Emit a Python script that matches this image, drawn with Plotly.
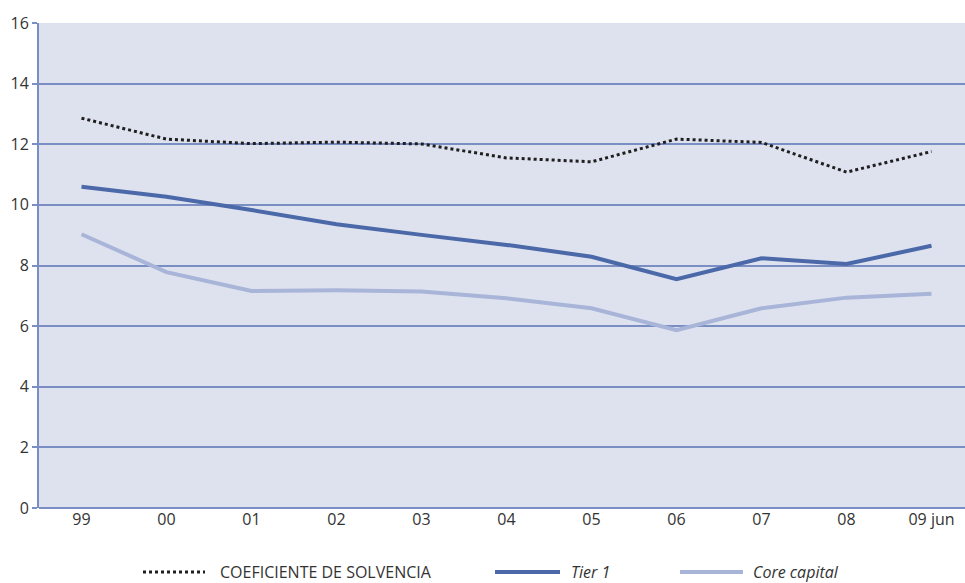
import plotly.graph_objects as go

# Solvency ratios (%) by year
years = ["99", "00", "01", "02", "03", "04", "05", "06", "07", "08", "09 jun"]
coef_solvencia = [12.86, 12.17, 12.02, 12.07, 12.01, 11.55, 11.42, 12.17, 12.06, 11.08, 11.76]
tier1 = [10.60, 10.27, 9.83, 9.36, 9.01, 8.68, 8.29, 7.55, 8.24, 8.05, 8.65]
core_capital = [9.03, 7.78, 7.16, 7.18, 7.14, 6.92, 6.59, 5.87, 6.59, 6.94, 7.07]

y_ticks = [0, 2, 4, 6, 8, 10, 12, 14, 16]

GRID = "#7b8ec4"
BG = "#dee2ef"
TIER_COL = "#4b69a8"
CORE_COL = "#a8b5d8"
DOT_COL = "#1f1f1f"
TXT = "#333333"
FONT = "Open Sans"

fig = go.Figure()
fig.add_trace(go.Scatter(x=years, y=core_capital, mode="lines",
                         line=dict(color=CORE_COL, width=4), name="Core capital"))
fig.add_trace(go.Scatter(x=years, y=tier1, mode="lines",
                         line=dict(color=TIER_COL, width=4), name="Tier 1"))
fig.add_trace(go.Scatter(x=years, y=coef_solvencia, mode="lines",
                         line=dict(color=DOT_COL, width=3, dash="dot"),
                         name="COEFICIENTE DE SOLVENCIA"))

fig.update_layout(
    width=965, height=583,
    margin=dict(l=39, r=0, t=23, b=75),
    paper_bgcolor="white", plot_bgcolor=BG,
    showlegend=False,
    font=dict(family=FONT, color=TXT),
)
fig.update_xaxes(
    type="category", range=[-0.5, 10.394],
    showgrid=False, showline=False, zeroline=False,
    ticks="", tickfont=dict(size=16, family=FONT, color=TXT),
)
fig.update_yaxes(
    range=[0, 16], tickvals=y_ticks,
    showgrid=True, gridcolor=GRID, gridwidth=2,
    showline=True, linecolor=GRID, linewidth=2,
    ticks="outside", ticklen=5, tickcolor=GRID, tickwidth=2,
    zeroline=True, zerolinecolor=GRID, zerolinewidth=2,
    tickfont=dict(size=16, family=FONT, color=TXT),
)

# Legend drawn below the plot with long line samples
legend_items = [
    ("COEFICIENTE DE SOLVENCIA", dict(color=DOT_COL, width=3, dash="dot"), 143, 205, 218, "normal"),
    ("Tier 1", dict(color=TIER_COL, width=4), 495, 560, 569, "italic"),
    ("Core capital", dict(color=CORE_COL, width=4), 680, 743, 751, "italic"),
]
plot_w = 965 - 39
plot_h = 583 - 23 - 75
ly = (508 - 572) / plot_h
for label, ln, x0, x1, xt, style in legend_items:
    fig.add_shape(type="line", xref="paper", yref="paper",
                  x0=(x0 - 39) / plot_w, x1=(x1 - 39) / plot_w, y0=ly, y1=ly,
                  line=ln)
    fig.add_annotation(xref="paper", yref="paper", x=(xt - 39) / plot_w, y=ly,
                       text=label, showarrow=False, xanchor="left", yanchor="middle",
                       font=dict(size=16, family=FONT, color=TXT, style=style))

fig.write_html("out.html")
